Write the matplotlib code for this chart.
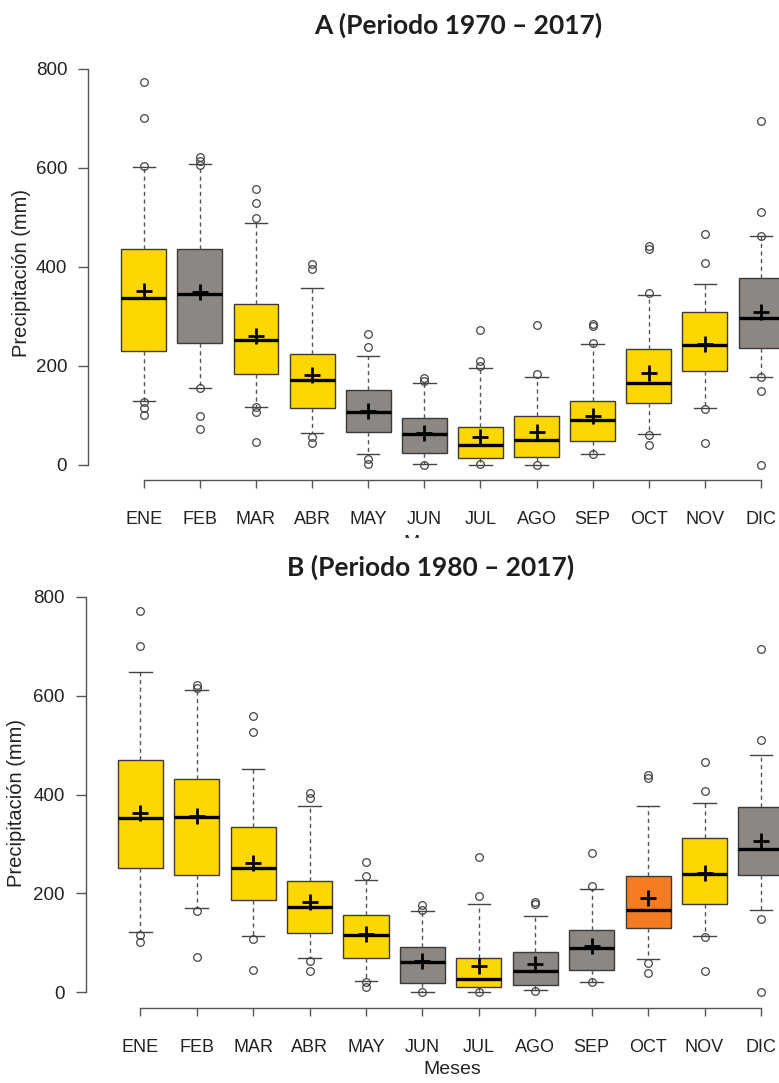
import matplotlib
matplotlib.use("Agg")
import matplotlib.pyplot as plt
from matplotlib.patches import Rectangle

plt.rcParams['font.family'] = ['Liberation Sans', 'DejaVu Sans']

# Month labels
months = ['ENE', 'FEB', 'MAR', 'ABR', 'MAY', 'JUN', 'JUL', 'AGO', 'SEP', 'OCT', 'NOV', 'DIC']

YEL = '#FFD700'
GRY = '#8C8783'
ORG = '#F47B20'

# Panel A (1970 - 2017)
a_q1 = [230, 245, 183, 115, 66, 24, 13, 15, 47, 125, 190, 235]
a_med = [337, 345, 251, 171, 106, 62, 39, 49, 90, 165, 241, 297]
a_q3 = [436, 436, 324, 224, 151, 94, 76, 99, 128, 234, 309, 377]
a_mean = [351, 348, 260, 181, 108, 64, 55, 66, 99, 185, 243, 308]
a_whislo = [129, 155, 117, 64, 21, 1, 0, 0, 21, 61, 115, 178]
a_whishi = [602, 607, 488, 358, 219, 164, 195, 178, 243, 343, 365, 463]
a_fliers = [[773, 701, 603, 127, 115, 101],
            [621, 614, 605, 155, 98, 72],
            [558, 528, 498, 117, 106, 45],
            [405, 395, 56, 43],
            [264, 237, 12, 1],
            [176, 169, 0],
            [273, 209, 199, 1],
            [283, 183, 0],
            [284, 281, 246, 21],
            [442, 435, 346, 59, 40],
            [466, 407, 113, 43],
            [694, 510, 463, 178, 148, 0]]
a_colors = [YEL, GRY, YEL, YEL, GRY, GRY, YEL, YEL, YEL, YEL, YEL, GRY]

# Panel B (1980 - 2017)
b_q1 = [252, 237, 187, 120, 69, 18, 11, 15, 45, 131, 178, 237]
b_med = [352, 355, 252, 172, 115, 62, 27, 43, 90, 166, 240, 289]
b_q3 = [469, 431, 334, 226, 157, 92, 69, 82, 127, 236, 312, 375]
b_mean = [362, 357, 261, 183, 117, 64, 54, 57, 94, 190, 241, 306]
b_whislo = [122, 171, 113, 69, 23, 0, 0, 4, 20, 68, 113, 166]
b_whishi = [647, 611, 452, 376, 227, 164, 178, 155, 208, 377, 383, 479]
b_fliers = [[771, 700, 116, 101],
            [621, 616, 164, 72],
            [558, 527, 108, 45],
            [404, 394, 63, 43],
            [264, 236, 21, 11],
            [176, 166, 0],
            [273, 195, 0],
            [183, 179, 2],
            [282, 215, 20],
            [440, 434, 59, 39],
            [466, 408, 112, 43],
            [694, 510, 149, 0]]
b_colors = [YEL, YEL, YEL, YEL, YEL, GRY, YEL, GRY, GRY, ORG, YEL, GRY]


def draw_panel(ax, q1, med, q3, mean, whislo, whishi, fliers, colors, xlim):
    stats = []
    for i in range(len(months)):
        stats.append(dict(q1=q1[i], med=med[i], q3=q3[i], mean=mean[i],
                          whislo=whislo[i], whishi=whishi[i], fliers=fliers[i]))
    pos = list(range(1, len(months) + 1))
    bp = ax.bxp(stats, positions=pos, widths=0.8, patch_artist=True,
                showmeans=True, showfliers=True,
                boxprops=dict(edgecolor='#3a3a3a', linewidth=1.0),
                medianprops=dict(color='black', linewidth=2.4),
                whiskerprops=dict(color='#555555', linewidth=1.0, linestyle=(0, (3, 2.5))),
                capprops=dict(color='#444444', linewidth=1.0),
                capwidths=0.4,
                meanprops=dict(marker='+', markersize=12, markeredgewidth=2.0,
                               color='black', markeredgecolor='black'),
                flierprops=dict(marker='o', markersize=5.5, markerfacecolor='none',
                                markeredgecolor='#444444', markeredgewidth=0.9))
    for patch, c in zip(bp['boxes'], colors):
        patch.set_facecolor(c)
    ax.set_xlim(*xlim)
    ax.set_ylim(-40, 830)
    ax.spines['top'].set_visible(False)
    ax.spines['right'].set_visible(False)
    ax.spines['left'].set_bounds(0, 800)
    ax.spines['bottom'].set_bounds(1, 12)
    ax.spines['bottom'].set_position(('data', -32))
    for s in ('left', 'bottom'):
        ax.spines[s].set_color('#555555')
        ax.spines[s].set_linewidth(1.0)
    ax.set_yticks([0, 200, 400, 600, 800])
    ax.set_xticks(pos)
    ax.set_xticklabels(months)
    ax.tick_params(axis='y', length=7, width=1.0, color='#555555', pad=8,
                   labelsize=13.5, labelcolor='#222222')
    ax.tick_params(axis='x', length=6, width=1.0, color='#555555', pad=16,
                   labelsize=13, labelcolor='#222222')
    ax.set_ylabel('Precipitación (mm)', fontsize=14.5, color='#222222')


fig = plt.figure(figsize=(7.79, 10.83), dpi=100)

axA = fig.add_axes([88 / 779, 0.5528, 1 - 88 / 779, 0.3972])
draw_panel(axA, a_q1, a_med, a_q3, a_mean, a_whislo, a_whishi, a_fliers, a_colors,
           (0.007, 12.32))
axA.yaxis.set_label_coords(-0.0825, 0.491)
axA.set_xlabel('Meses', fontsize=14, color='#222222')
axA.xaxis.set_label_coords((432 - 88) / 691, (484.3 - 535) / 430.2)

axB = fig.add_axes([85.7 / 779, 0.06547, 1 - 85.7 / 779, 0.3972])
draw_panel(axB, b_q1, b_med, b_q3, b_mean, b_whislo, b_whishi, b_fliers, b_colors,
           (0.032, 12.32))
axB.yaxis.set_label_coords(-0.086, 0.486)
axB.set_xlabel('Meses', fontsize=14, color='#222222')
axB.xaxis.set_label_coords((452 - 85.7) / 693.3, (1012.1 - 1061) / 430.2)

# white strip over panel A's axis label, behind title B
fig.patches.append(Rectangle((0, 1 - 590 / 1083), 1, 52 / 1083, transform=fig.transFigure,
                             facecolor='white', edgecolor='none', zorder=5))

fig.text(458 / 779, 1 - 25 / 1083, 'A (Periodo 1970 – 2017)', ha='center', va='center',
         fontsize=19, fontweight='bold', family=['Lato', 'DejaVu Sans'], color='#1e1e1e')
fig.text(431 / 779, 1 - 567 / 1083, 'B (Periodo 1980 – 2017)', ha='center', va='center',
         fontsize=19, fontweight='bold', family=['Lato', 'DejaVu Sans'], color='#1e1e1e',
         zorder=6)

fig.savefig('out.png', dpi=100)
